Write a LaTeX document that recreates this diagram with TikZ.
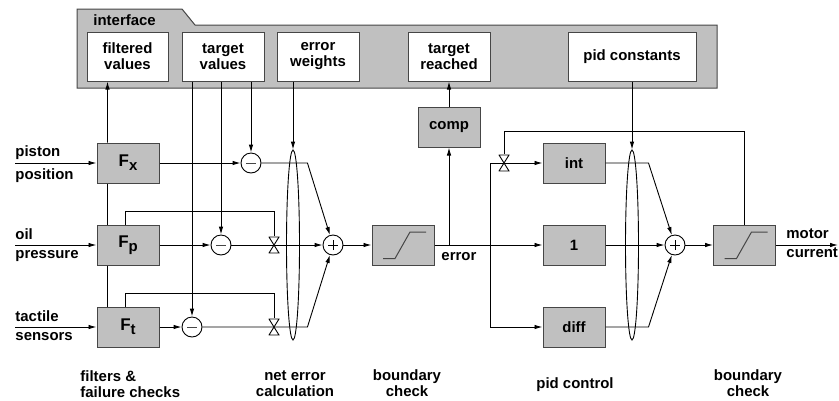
\documentclass[tikz,border=0pt]{standalone}
\usepackage{fontspec}
\setmainfont{Liberation Sans}
\usepackage{tikz}
\usetikzlibrary{shapes.geometric, arrows.meta, calc, positioning}

\definecolor{boxgray}{RGB}{192,192,192}
\definecolor{edgegray}{RGB}{70,70,70}

\newcommand{\filt}[1]{{\fontsize{17}{17}\selectfont F}\raisebox{-4bp}{#1}}

\tikzset{
    panel/.style={fill=boxgray, draw=edgegray, line width=1bp},
    slot/.style={draw=edgegray, fill=white, line width=1bp, minimum width=82bp, minimum height=49bp, inner sep=0, align=center},
    block/.style={draw=edgegray, fill=boxgray, line width=1bp, minimum width=62bp, minimum height=40bp, inner sep=0},
    satbox/.style={block, path picture={
        \draw ([shift={(-20bp,-13.5bp)}]path picture bounding box.center) -- ++(12bp,0)
              -- ([shift={(7bp,13bp)}]path picture bounding box.center) -- ++(16bp,0);}},
    minuscirc/.style={circle, draw, fill=white, minimum size=20bp, inner sep=0, path picture={
        \draw[edgegray] ([xshift=-5bp]path picture bounding box.center) -- ([xshift=5bp]path picture bounding box.center);}},
    pluscirc/.style={circle, draw, fill=white, minimum size=20bp, inner sep=0, path picture={
        \draw ([xshift=-5bp]path picture bounding box.center) -- ([xshift=5bp]path picture bounding box.center);
        \draw ([yshift=-5bp]path picture bounding box.center) -- ([yshift=5bp]path picture bounding box.center);}},
    valve/.style={minimum width=11bp, minimum height=17bp, inner sep=0, path picture={
        \draw[fill=white] ([shift={(-5bp,8bp)}]path picture bounding box.center) -- ([shift={(5bp,8bp)}]path picture bounding box.center)
              -- ([shift={(-5bp,-8bp)}]path picture bounding box.center) -- ([shift={(5bp,-8bp)}]path picture bounding box.center) -- cycle;}},
    weights/.style={ellipse, draw, minimum width=13bp, minimum height=190bp, inner sep=0},
    flow/.style={-{Latex[length=8bp,width=4.5bp]}},
    lbl/.style={anchor=base west, inner sep=0},
    note/.style={anchor=north, inner sep=0, align=center},
}

\begin{document}
\begin{tikzpicture}[x=1bp, y=-1bp, line width=0.9bp, font=\bfseries\fontsize{15}{16}\selectfont]
    \useasboundingbox (0,0) rectangle (839,400);

    % Interface panel
    \draw[panel] (77,9) -- (182,9) -- (195,25) -- (717,25) -- (717,88) -- (77,88) -- cycle;
    \node[lbl] (iface) at (93,25) {interface};
    \node[slot, minimum width=81bp] (fval) at (127.5,56.5) {filtered\\values};
    \node[slot] (tval) at (223,56.5) {target\\values};
    \node[slot] (ewt) at (318,56.5) {error\\weights};
    \node[slot] (treach) at (449,56.5) {target\\reached};
    \node[slot, minimum width=128bp] (pidc) at (632,56.5) {pid constants};

    % Inputs
    \coordinate (inx) at (15,163);
    \coordinate (inp) at (15,245);
    \coordinate (int) at (15,327);
    \node[lbl] (lpiston) at (15,156) {piston};
    \node[lbl] (lposition) at (15,179) {position};
    \node[lbl] (loil) at (15,239) {oil};
    \node[lbl] (lpressure) at (15,258) {pressure};
    \node[lbl] (ltactile) at (15,321) {tactile};
    \node[lbl] (lsensors) at (15,340) {sensors};

    % Filters
    \node[block] (fx) at (128,163) {\filt{x}};
    \node[block] (fp) at (128,245) {\filt{p}};
    \node[block] (ft) at (128,327) {\filt{t}};

    % Net error
    \node[minuscirc] (subx) at (251,163) {};
    \node[minuscirc] (subp) at (221,245) {};
    \node[minuscirc] (subt) at (192,327) {};
    \node[valve] (vp) at (274,245) {};
    \node[valve] (vt) at (274,327) {};
    \node[weights] (wgt1) at (293,245) {};
    \node[pluscirc] (addw) at (333,245) {};

    % Boundary check
    \node[satbox] (sat1) at (403,245) {};
    \node[block] (comp) at (449,127) {comp};
    \node[lbl] (lerror) at (441,260) {error};
    \coordinate (split) at (490,245);

    % PID control
    \node[valve] (vi) at (504,163) {};
    \node[block] (intb) at (574,163) {int};
    \node[block] (one) at (574,245) {1};
    \node[block] (diffb) at (574,327) {diff};
    \node[weights] (wgt2) at (632,245) {};
    \node[pluscirc] (addp) at (675,245) {};
    \node[satbox] (sat2) at (744.5,245) {};
    \coordinate (out) at (838,245);
    \node[lbl] (lmotor) at (786,238) {motor};
    \node[lbl] (lcurrent) at (786,257) {current};

    % Captions
    \node[anchor=north west, inner sep=0, align=left] (cfilt) at (80,370) {filters \&\\failure checks};
    \node[note] (cnet) at (295,370) {net error\\calculation};
    \node[note] (cbnd1) at (407,369) {boundary\\check};
    \node[note] (cpid) at (575,377) {pid control};
    \node[note] (cbnd2) at (748,369) {boundary\\check};

    % Connections
    \draw[flow] (inx) -- (fx);
    \draw[flow] (inp) -- (fp);
    \draw[flow] (int) -- (ft);
    \draw[flow] ([xshift=11bp]fx.north west) -- ([xshift=21bp]fval.south west);
    \draw ([xshift=11bp]fx.south west) -- ([xshift=11bp]fp.north west);
    \draw ([xshift=11bp]fp.south west) -- ([xshift=11bp]ft.north west);
    \draw ([xshift=29bp]fp.north west) -- ++(0,-13) -| (vp.north);
    \draw ([xshift=29bp]ft.north west) -- ++(0,-13) -| (vt.north);

    \draw[flow] (fx) -- (subx);
    \draw[flow] (fp) -- (subp);
    \draw[flow] (ft) -- (subt);
    \draw[flow] (subx.north |- tval.south) -- (subx);
    \draw[flow] (subp.north |- tval.south) -- (subp);
    \draw[flow] (subt.north |- tval.south) -- (subt);
    \draw[flow] (wgt1.north |- ewt.south) -- (wgt1.north);

    \draw[flow] (subx.east) -- ++(46,0) -- (addw);
    \draw[flow] (subp) -- (addw);
    \draw[flow] (subt.east) -- ++(105,0) -- (addw);

    \draw[flow] (addw) -- (sat1);
    \draw[flow] (sat1) -- (one);
    \draw[flow] (comp.south |- sat1.east) -- (comp);
    \draw[flow] (comp) -- (treach);

    \draw[flow] (split) |- (intb);
    \draw[flow] (split) |- (diffb);
    \draw (sat2.north) -- ++(0,-93) -| (vi.north);
    \draw[flow] (pidc) -- (wgt2);

    \draw[flow] (intb.east) -- ++(43,0) -- (addp);
    \draw[flow] (one) -- (addp);
    \draw[flow] (diffb.east) -- ++(43,0) -- (addp);
    \draw[flow] (addp) -- (sat2);
    \draw[flow] (sat2) -- (out);

\end{tikzpicture}
\end{document}
